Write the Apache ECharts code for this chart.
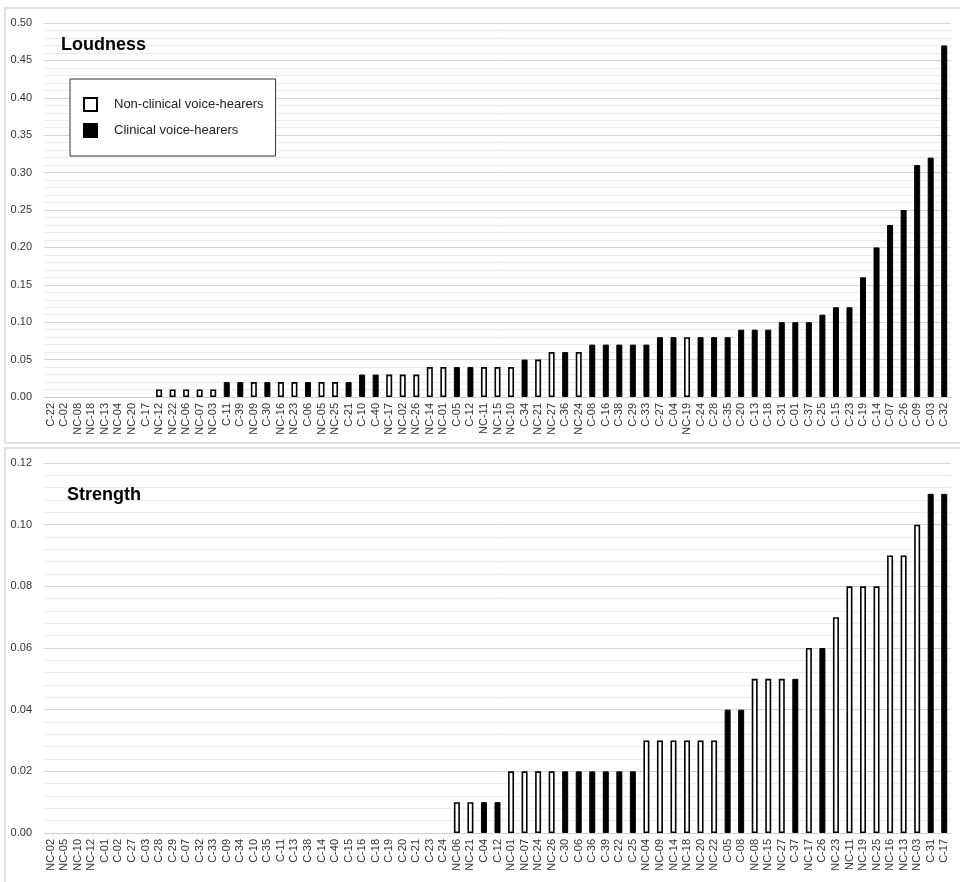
<!DOCTYPE html>
<html>
<head>
<meta charset="utf-8">
<script src="https://cdn.jsdelivr.net/npm/echarts@6/dist/echarts.min.js"></script>
<style>html,body{margin:0;padding:0;background:#fff}#c{width:960px;height:882px}</style>
</head>
<body>
<div id="c"></div>
<script>
var loudCats = ['C-22','C-02','NC-08','NC-18','NC-13','NC-04','NC-20','C-17','NC-12','NC-22','NC-06','NC-07','NC-03','C-11','C-39','NC-09','C-30','NC-16','NC-23','C-06','NC-05','NC-25','C-21','C-10','C-40','NC-17','NC-02','NC-26','NC-14','NC-01','C-05','C-12','NC-11','NC-15','NC-10','C-34','NC-21','NC-27','C-36','NC-24','C-08','C-16','C-38','C-29','C-33','C-27','C-04','NC-19','C-24','C-28','C-35','C-20','C-13','C-18','C-31','C-01','C-37','C-25','C-15','C-23','C-19','C-14','C-07','C-26','C-09','C-03','C-32'];
var loudVals = [0,0,0,0,0,0,0,0,0.01,0.01,0.01,0.01,0.01,0.02,0.02,0.02,0.02,0.02,0.02,0.02,0.02,0.02,0.02,0.03,0.03,0.03,0.03,0.03,0.04,0.04,0.04,0.04,0.04,0.04,0.04,0.05,0.05,0.06,0.06,0.06,0.07,0.07,0.07,0.07,0.07,0.08,0.08,0.08,0.08,0.08,0.08,0.09,0.09,0.09,0.10,0.10,0.10,0.11,0.12,0.12,0.16,0.20,0.23,0.25,0.31,0.32,0.47];
var strCats = ['NC-02','NC-05','NC-10','NC-12','C-01','C-02','C-27','C-03','C-28','C-29','C-07','C-32','C-33','C-09','C-34','C-10','C-35','C-11','C-13','C-38','C-14','C-40','C-15','C-16','C-18','C-19','C-20','C-21','C-23','C-24','NC-06','NC-21','C-04','C-12','NC-01','NC-07','NC-24','NC-26','C-30','C-06','C-36','C-39','C-22','C-25','NC-04','NC-09','NC-14','NC-18','NC-20','NC-22','C-05','C-08','NC-08','NC-15','NC-27','C-37','NC-17','C-26','NC-23','NC-11','NC-19','NC-25','NC-16','NC-13','NC-03','C-31','C-17'];
var strVals = [0,0,0,0,0,0,0,0,0,0,0,0,0,0,0,0,0,0,0,0,0,0,0,0,0,0,0,0,0,0,0.01,0.01,0.01,0.01,0.02,0.02,0.02,0.02,0.02,0.02,0.02,0.02,0.02,0.02,0.03,0.03,0.03,0.03,0.03,0.03,0.04,0.04,0.05,0.05,0.05,0.05,0.06,0.06,0.07,0.08,0.08,0.08,0.09,0.09,0.10,0.11,0.11];
var panelTitles = ['Loudness','Strength'];
var groupNames = ['Non-clinical voice-hearers','Clinical voice-hearers'];

function split(cats, vals, nc) {
  return vals.map(function (v, i) {
    var isNC = cats[i].indexOf('NC') === 0;
    if (isNC !== nc) return '-';
    if (v === 0) return { value: v, itemStyle: { borderWidth: 0, opacity: 0 } };
    return v;
  });
}

var FONT = 'Liberation Sans, Arial, sans-serif';
var chart = echarts.init(document.getElementById('c'));

function xAxis(cats, gi) {
  return {
    type: 'category', data: cats, gridIndex: gi,
    axisLine: { show: true, lineStyle: { color: '#d0d0d0' } },
    axisTick: { show: false },
    axisLabel: { rotate: 90, interval: 0, fontSize: 11, color: '#333', fontFamily: FONT, margin: 6 }
  };
}
function yAxis(gi, max, interval) {
  return {
    type: 'value', gridIndex: gi, min: 0, max: max, interval: interval,
    axisLine: { show: false }, axisTick: { show: false },
    axisLabel: { fontSize: 11, color: '#333', fontFamily: FONT, margin: 12,
      formatter: function (v) { return v.toFixed(2); } },
    splitLine: { show: true, lineStyle: { color: '#d4d4d4', width: 1 } },
    minorTick: { show: false, splitNumber: 5 },
    minorSplitLine: { show: true, lineStyle: { color: '#ececec', width: 1 } }
  };
}
var ncStyle = { color: '#fff', borderColor: '#000', borderWidth: 1.6 };
var cStyle = { color: '#000', borderColor: '#000', borderWidth: 1 };

chart.setOption({
  animation: false,
  backgroundColor: '#fff',
  graphic: [
    { type: 'rect', shape: { x: 5, y: 8, width: 962, height: 435 }, style: { fill: 'none', stroke: '#e2e2e2', lineWidth: 2 }, silent: true },
    { type: 'rect', shape: { x: 5, y: 448, width: 962, height: 440 }, style: { fill: 'none', stroke: '#e2e2e2', lineWidth: 2 }, silent: true }
  ],
  title: [
    { text: panelTitles[0], left: 56, top: 31, textStyle: { fontSize: 18, fontWeight: 'bold', color: '#000', fontFamily: FONT } },
    { text: panelTitles[1], left: 62, top: 481, textStyle: { fontSize: 18, fontWeight: 'bold', color: '#000', fontFamily: FONT } }
  ],
  legend: {
    data: groupNames, orient: 'vertical', left: 70, top: 79, icon: 'rect',
    backgroundColor: '#fff', borderColor: '#333', borderWidth: 1,
    padding: [18, 12, 18, 13], itemWidth: 13, itemHeight: 13, itemGap: 11,
    textStyle: { fontSize: 13, color: '#222', fontFamily: FONT, padding: [0, 0, 0, 12] }
  },
  grid: [
    { left: 44, right: 9, top: 23, height: 374 },
    { left: 44, right: 9, top: 463, height: 370 }
  ],
  xAxis: [xAxis(loudCats, 0), xAxis(strCats, 1)],
  yAxis: [yAxis(0, 0.5, 0.05), yAxis(1, 0.12, 0.02)],
  series: [
    { name: groupNames[0], type: 'bar', xAxisIndex: 0, yAxisIndex: 0, data: split(loudCats, loudVals, true), barWidth: 6, barGap: '-100%', itemStyle: ncStyle },
    { name: groupNames[1], type: 'bar', xAxisIndex: 0, yAxisIndex: 0, data: split(loudCats, loudVals, false), barWidth: 6, barGap: '-100%', itemStyle: cStyle },
    { name: groupNames[0], type: 'bar', xAxisIndex: 1, yAxisIndex: 1, data: split(strCats, strVals, true), barWidth: 6, barGap: '-100%', itemStyle: ncStyle },
    { name: groupNames[1], type: 'bar', xAxisIndex: 1, yAxisIndex: 1, data: split(strCats, strVals, false), barWidth: 6, barGap: '-100%', itemStyle: cStyle }
  ]
});
</script>
</body>
</html>
